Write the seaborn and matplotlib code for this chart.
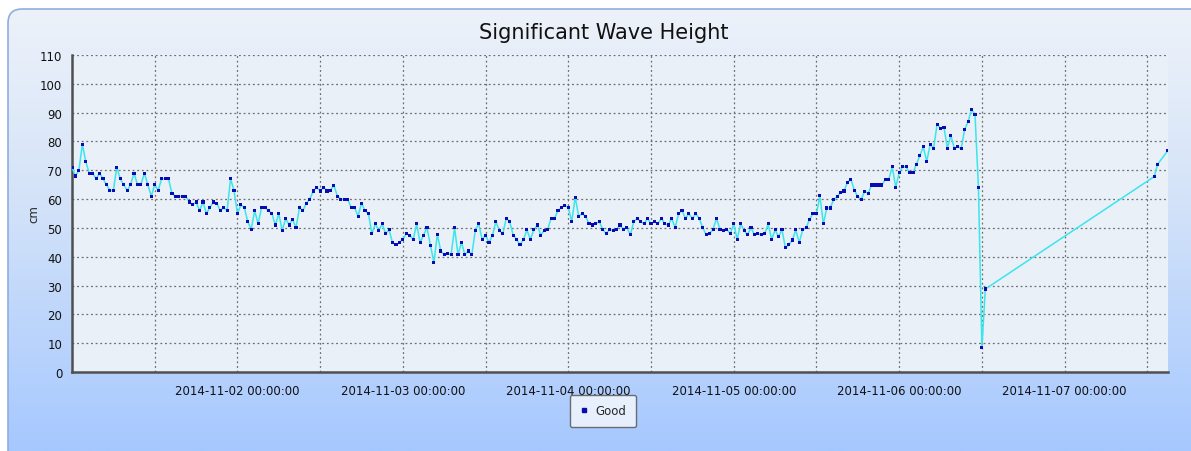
import matplotlib
matplotlib.use("Agg")
import matplotlib.pyplot as plt
import matplotlib.dates as mdates
from matplotlib.patches import FancyBboxPatch
from matplotlib.colors import LinearSegmentedColormap
import numpy as np
import pandas as pd
import seaborn as sns

# half-hourly readings, 2014-11-01 00:00 .. 2014-11-06 12:30
wave_start = "2014-11-01 00:00"
wave_cm = [
    71, 68, 70, 79, 73, 69, 69, 67, 69, 67,
    65, 63, 63, 71, 67, 65, 63, 65, 69, 65,
    65, 69, 65, 61, 65, 63, 67, 67, 67, 62,
    61, 61, 61, 61, 59, 58, 59, 56, 59, 55,
    57, 59, 58.6, 56, 57, 56, 67, 63, 55, 58,
    57, 52.2, 49.5, 56, 51.4, 57, 57, 56, 55, 51,
    55, 49, 53.3, 51, 53, 50, 57, 56, 58.6,
    60, 62.8, 64.1, 62.8, 64.1, 62.8, 63.1, 64.8, 61, 60,
    60, 60, 57, 57, 54.1, 58.6, 56, 55, 48, 51.4,
    49, 51.4, 48, 49.3, 44.9, 44.1, 44.9, 46, 48, 47.5,
    46, 51.4, 44.9, 47.5, 50, 44, 38, 47.7, 42, 40.7,
    41, 40.7, 50, 40.7, 45, 40.7, 42, 40.7, 49, 51.4,
    46, 47.5, 44.9, 47.5, 52.2, 49, 48, 53.3, 52.2, 47.5,
    46, 44.1, 46, 49.3, 46, 49.3, 51, 47.5,
    49.1, 49.5, 53.3, 53.3, 56, 57, 57.9, 57, 52.2, 60.7,
    54.1, 54.9, 54.1, 51.4, 51, 51.4, 52.2, 49.5, 48, 49.5,
    49.1, 49.5, 51, 49.5, 50.1, 47.6, 52.2, 53.3, 52.2, 51.4,
    53.3, 51.4, 52.2, 51.4, 53.3, 51.4, 51, 53.3, 50.1, 54.9,
    56, 53.3, 54.9, 53.3, 54.9, 53.3, 50.1, 47.6, 48, 49.5,
    53.3, 49.5, 49.1, 49.5, 48, 51.4, 46, 51.4, 49.1, 47.6,
    50.1, 47.6, 48, 47.6, 48, 51.4, 46,
    49.3, 46.9, 49.3, 43.1, 44.1, 45.8, 49.3, 44.9, 49.3, 50,
    53, 54.9, 54.9, 61.1, 51.4, 56.9, 56.9, 59.9, 60.8, 62.3,
    62.8, 65.8, 66.9, 63.1, 60.8, 59.9, 62.7, 62, 64.9, 64.9,
    64.9, 64.9, 66.9, 66.9, 71.2, 64.1, 69.1, 71.2, 71.2, 69.1,
    69.1, 72.1, 75, 78.1, 73.1, 79, 77.6, 86, 84.5, 84.9,
    77.6, 82.1, 77.6, 78.1, 77.6, 84.1, 86.9, 91, 89.4, 64.1,
    8.5, 28.8,
]
# readings after the gap
tail_times = ["2014-11-07 13:00", "2014-11-07 13:30", "2014-11-07 15:00"]
tail_cm = [67.8, 72.1, 76.9]
# only midnights get a label
label_days = ["2014-11-02", "2014-11-03", "2014-11-04",
              "2014-11-05", "2014-11-06", "2014-11-07"]

times = list(pd.date_range(wave_start, periods=len(wave_cm), freq="30min"))
times += list(pd.to_datetime(tail_times))
df = pd.DataFrame({"time": times, "cm": wave_cm + tail_cm})

W, H = 1191, 452
fig = plt.figure(figsize=(W / 100, H / 100), dpi=100)
fig.patch.set_facecolor("white")

# gradient panel behind everything
bg = fig.add_axes([0, 0, 1, 1], zorder=-5)
bg.set_xlim(0, W)
bg.set_ylim(H, 0)
bg.axis("off")
cmap = LinearSegmentedColormap.from_list(
    "panel", [(0, "#edf2fa"), (0.4, "#d6e4f8"), (1, "#a6c8ff")])
grad = np.linspace(0, 1, 256)[:, None]
panel = FancyBboxPatch((8, 10), W + 20, H + 40, boxstyle="round,pad=0,rounding_size=14",
                       facecolor="none", edgecolor="#8eaee0", lw=1.2)
bg.add_patch(panel)
im = bg.imshow(grad, cmap=cmap, aspect="auto", extent=(8, W + 20, H, 10))
im.set_clip_path(panel)

sns.set_style("white")
plt.rcParams["font.family"] = ["DejaVu Sans"]

ax = fig.add_axes([72 / W, 1 - 373 / H, (1168 - 72) / W, (373 - 56) / H])
ax.set_facecolor("#e9f0f8")

sns.lineplot(data=df, x="time", y="cm", ax=ax, color="#3ae6ea", lw=1.1,
             legend=False, zorder=3)
sns.scatterplot(data=df, x="time", y="cm", ax=ax, marker="s", s=5,
                color="#0a0ab4", edgecolor="none", zorder=4, legend=False)

ax.set_xlim(df["time"].iloc[0], df["time"].iloc[-1])
ax.set_ylim(0, 110)
ax.set_yticks(range(0, 111, 10))
ax.xaxis.set_major_locator(mdates.HourLocator(byhour=[0, 12]))
labelled = {pd.Timestamp(d).date() for d in label_days}


def fmt(v, pos):
    d = mdates.num2date(v)
    if d.hour == 0 and d.date() in labelled:
        return d.strftime("%Y-%m-%d %H:%M:%S")
    return ""


ax.xaxis.set_major_formatter(plt.FuncFormatter(fmt))

ax.grid(True, color="#6e6e6e", lw=0.9, ls=(0, (1.5, 2.2)))
for s in ["top", "right"]:
    ax.spines[s].set_visible(False)
for s in ["left", "bottom"]:
    ax.spines[s].set_color("#505050")
    ax.spines[s].set_linewidth(1.8)
ax.tick_params(axis="both", direction="out", length=4, width=1,
               color="#404040", labelsize=8.5, labelcolor="#111111")
ax.tick_params(axis="x", pad=5)
ax.tick_params(axis="y", pad=3)
ax.set_xlabel("")
ax.set_ylabel("cm", fontsize=8.5, labelpad=0)

fig.text(604 / W, 1 - 33 / H, "Significant Wave Height", ha="center",
         va="center", fontsize=15, color="#111111")

handle = plt.Line2D([], [], ls="none", marker="s", ms=2.2, color="#0a0ab4")
leg = fig.legend([handle], ["Good"], loc="center",
                 bbox_to_anchor=(603 / W, 1 - 412 / H), fontsize=8.5,
                 frameon=True, fancybox=True, handlelength=0.8,
                 handletextpad=0.6, borderpad=0.8)
leg.get_frame().set_facecolor("#f7f9fd")
leg.get_frame().set_edgecolor("#505050")
leg.get_frame().set_linewidth(1.0)

fig.savefig("out.png", dpi=100)
